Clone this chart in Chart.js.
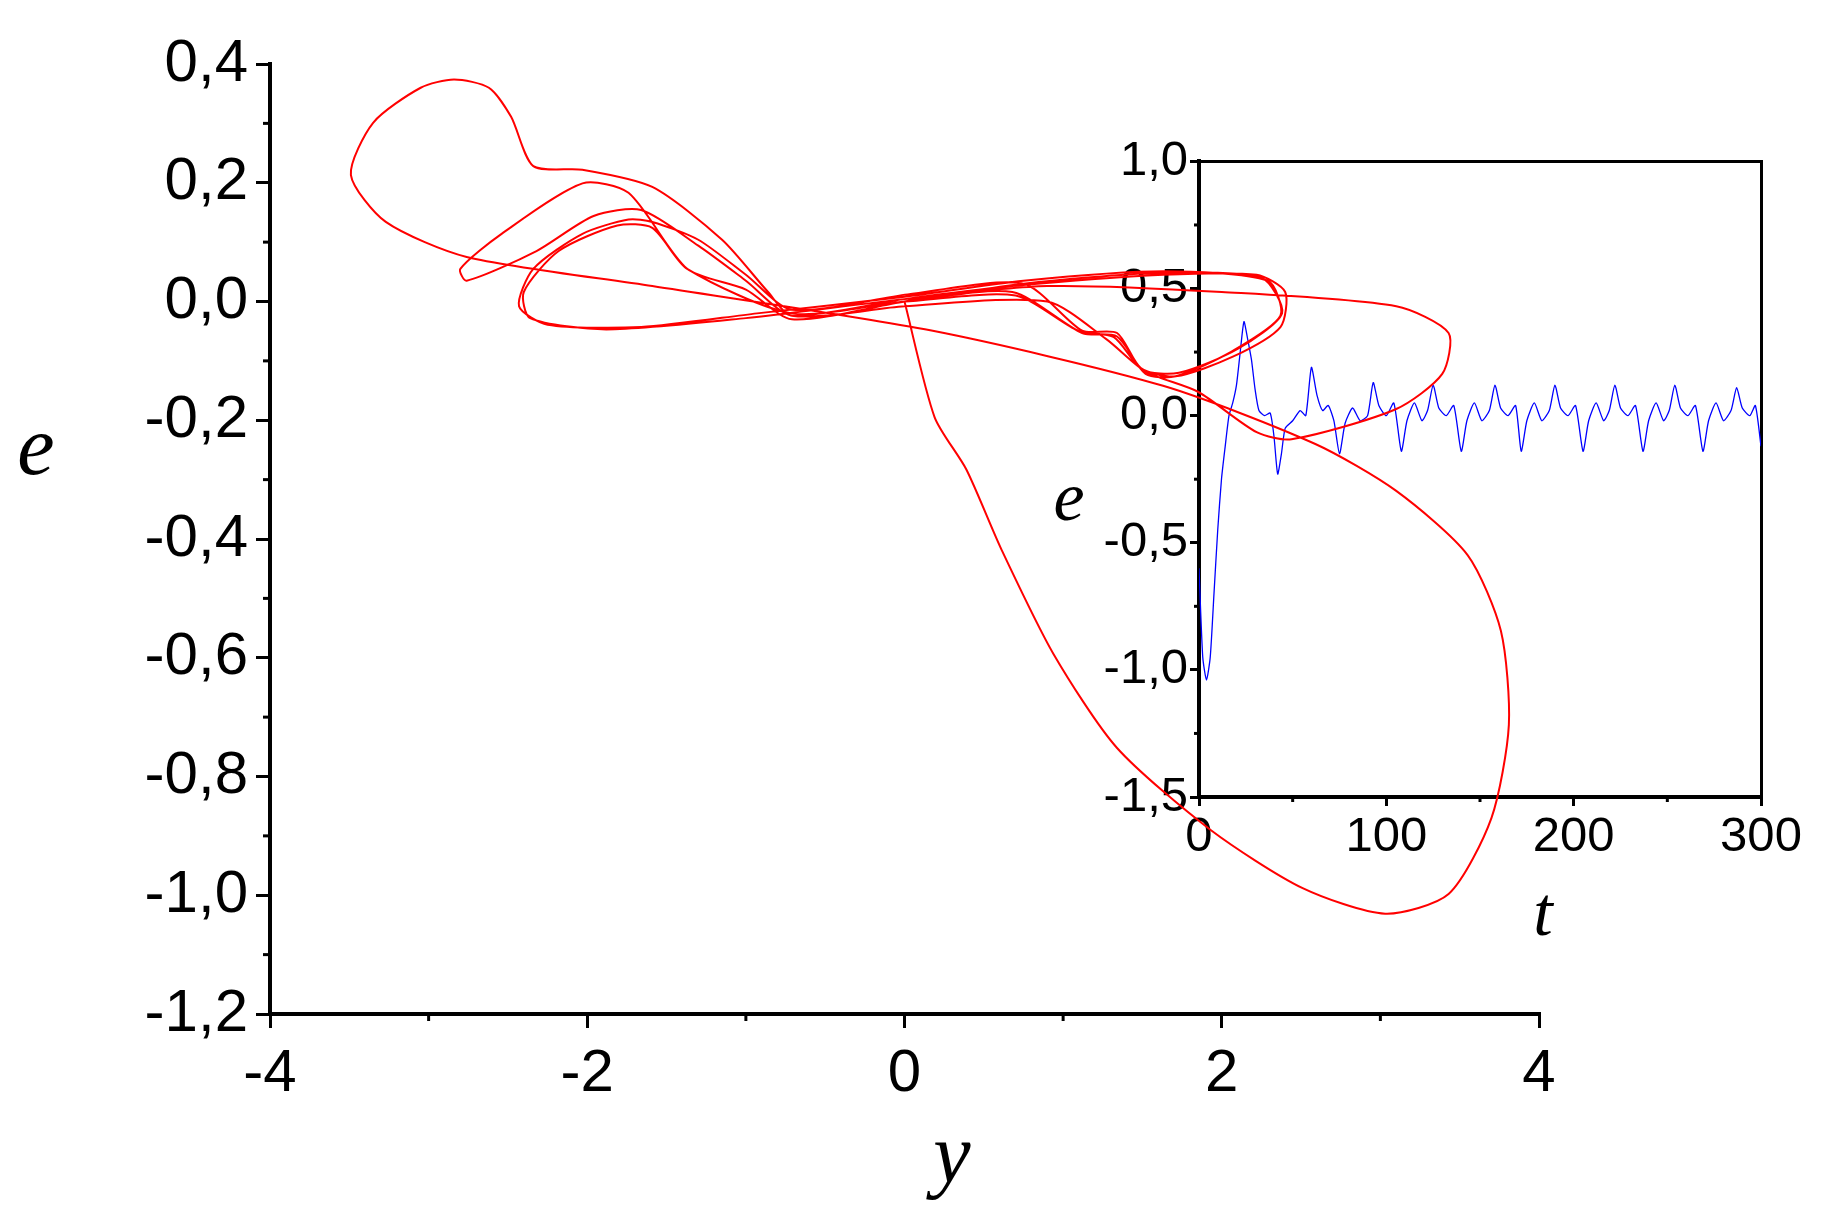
<!DOCTYPE html>
<html>
<head>
<meta charset="utf-8">
<script src="https://cdn.jsdelivr.net/npm/chart.js@4"></script>
<style>
  body { margin: 0; background: #fff; }
  #wrap { position: relative; width: 1823px; height: 1219px; }
  canvas { position: absolute; }
</style>
</head>
<body>
<div id="wrap">
  <canvas id="inset" width="783" height="900" style="left:1040px;top:130px"></canvas>
  <canvas id="main" width="1823" height="1219" style="left:0;top:0"></canvas>
</div>
<script>
// phase portrait: y and e
const phaseY = [0, 0.19, 0.39, 0.61, 0.94, 1.34, 1.93, 2.51, 3.03, 3.43, 3.70, 3.81, 3.76, 3.55, 3.10, 2.59, 1.63, 0.17, -1.59, -2.76, -3.27,
  -3.49, -3.35, -3.05, -2.84, -2.62, -2.48, -2.34, -2.03, -1.59, -1.15, -0.86, -0.71, 0, 0.68, 1.63, 2.22, 2.40, 2.37, 2.07, 1.71, 1.49, 1.34, 1.12, 0.75, 0.02, -0.71,
  -1.00, -1.30, -1.59, -1.74, -2.03, -2.34, -2.43, -2.25, -1.66, -0.93, 0, 0.75, 1.63, 2.29, 2.37, 2.07, 1.71, 1.52, 1.34, 1.12, 0.68, 0, -0.71,
  -1.37, -1.59, -1.81, -2.18, -2.40, -2.36, -1.88, -1.00, 0,
  0.90, 2.00, 3.10, 3.43, 3.39, 3.10, 2.44, 2.22, 1.85, 1.52, 1.27, 0.90, 0, -0.71, -1.00,
  -1.30, -1.66, -1.96, -2.32, -2.76, -2.80, -2.54, -2.03, -1.74, -1.37, -1.00, -0.71, 0, 0.75, 1.60, 2.25, 2.38, 2.10, 1.73, 1.50, 1.32, 1.10, 0.70, 0];
const phaseE = [0, -0.195, -0.283, -0.417, -0.594, -0.752, -0.890, -0.988, -1.031, -0.998, -0.870, -0.713, -0.555, -0.427, -0.319, -0.240, -0.142, -0.049, 0.026, 0.075, 0.134,
  0.213, 0.301, 0.360, 0.374, 0.360, 0.311, 0.228, 0.222, 0.193, 0.104, 0.016, -0.024, 0.004, 0.026, 0.045, 0.045, 0.016, -0.043, -0.093, -0.126, -0.112, -0.053, -0.049, 0.030, 0.012, -0.014,
  0.045, 0.104, 0.134, 0.138, 0.114, 0.055, -0.008, -0.039, -0.043, -0.020, 0.008, 0.035, 0.051, 0.035, -0.024, -0.083, -0.126, -0.122, -0.059, -0.053, 0.016, 0, -0.020,
  0.055, 0.124, 0.128, 0.085, 0.016, -0.028, -0.047, -0.028, 0.004,
  0.026, 0.016, -0.008, -0.053, -0.122, -0.181, -0.232, -0.220, -0.152, -0.118, -0.063, 0, -0.008, -0.024, 0.035,
  0.094, 0.154, 0.144, 0.085, 0.035, 0.055, 0.114, 0.199, 0.183, 0.055, 0.020, -0.030, 0, 0.030, 0.048, 0.040, -0.020, -0.080, -0.120, -0.115, -0.060, -0.050, 0.010, 0];

// inset: e over time t
const timeT = [0, 2, 4, 6, 8, 10, 12, 14, 16, 18, 20, 22, 24, 26, 28, 30, 32, 35, 38, 40, 42, 44, 46, 50, 54, 57,
  60, 63, 66, 69, 72, 75, 78, 82, 86, 90, 93, 96, 100, 104, 108, 111, 115, 119, 122,
  125, 128, 132, 136, 140, 143, 147, 151, 155, 158, 161, 165, 169, 172, 175, 179, 183, 187,
  190, 193, 197, 201, 205, 208, 212, 216, 219, 222, 225, 229, 233, 237, 240, 244, 248, 251,
  254, 257, 261, 265, 269, 272, 276, 280, 284, 287, 290, 294, 297, 300];
const timeE = [-0.6, -0.95, -1.04, -0.95, -0.7, -0.45, -0.25, -0.12, 0.0, 0.05, 0.12, 0.25, 0.37, 0.3, 0.22, 0.1, 0.02, 0.0, 0.01, -0.08, -0.23, -0.15, -0.05, -0.02, 0.02, 0.0,
  0.19, 0.08, 0.02, 0.04, -0.02, -0.15, -0.03, 0.03, -0.02, 0.0, 0.13, 0.04, 0.0, 0.05, -0.14, -0.02, 0.05, -0.02, 0.02,
  0.12, 0.03, 0.0, 0.04, -0.14, -0.02, 0.05, -0.02, 0.02, 0.12, 0.03, 0.0, 0.04, -0.14, -0.02, 0.05, -0.02, 0.02,
  0.12, 0.03, 0.0, 0.04, -0.14, -0.02, 0.05, -0.02, 0.02, 0.12, 0.03, 0.0, 0.04, -0.14, -0.02, 0.05, -0.02, 0.02,
  0.12, 0.03, 0.0, 0.04, -0.14, -0.02, 0.05, -0.02, 0.02, 0.11, 0.03, 0.0, 0.04, -0.12];

const comma = v => (Math.round(v * 10) / 10).toFixed(1).replace('.', ',');

// minor tick marks + axis titles
const extras = {
  id: 'extras',
  afterDraw(chart, args, o) {
    const c = chart.ctx, x = chart.scales.x, y = chart.scales.y;
    c.save();
    c.strokeStyle = '#000';
    c.lineWidth = o.lw;
    o.minorX.forEach(v => {
      const p = x.getPixelForValue(v);
      c.beginPath(); c.moveTo(p, x.top); c.lineTo(p, x.top + o.minorLen); c.stroke();
    });
    o.minorY.forEach(v => {
      const p = y.getPixelForValue(v);
      c.beginPath(); c.moveTo(y.right, p); c.lineTo(y.right - o.minorLen, p); c.stroke();
    });
    c.fillStyle = '#000';
    c.textAlign = 'center';
    c.textBaseline = 'middle';
    c.font = 'italic ' + o.titleSize + 'px "Liberation Serif", serif';
    c.fillText(o.yTitle, o.yTitlePos[0], o.yTitlePos[1]);
    c.fillText(o.xTitle, o.xTitlePos[0], o.xTitlePos[1]);
    c.restore();
  }
};

function range(a, b, s) { const r = []; for (let v = a; v <= b + 1e-9; v += s) r.push(Math.round(v * 1000) / 1000); return r; }

new Chart(document.getElementById('inset'), {
  type: 'scatter',
  data: { datasets: [{ data: timeT.map((t, i) => ({ x: t, y: timeE[i] })), showLine: true, borderColor: '#0000ff', borderWidth: 1.3, pointRadius: 0, tension: 0.2 }] },
  options: {
    responsive: false, animation: false, devicePixelRatio: 1,
    layout: { padding: { left: 39, right: 54, top: 22, bottom: 153 } },
    plugins: {
      legend: { display: false }, tooltip: { enabled: false },
      extras: { lw: 3, minorLen: 5, minorX: [50, 150, 250], minorY: [0.75, 0.25, -0.25, -0.75, -1.25],
        titleSize: 70, yTitle: 'e', yTitlePos: [29, 372], xTitle: 't', xTitlePos: [503, 787] }
    },
    scales: {
      x: { type: 'linear', min: 0, max: 300,
        ticks: { stepSize: 100, color: '#000', font: { size: 49, family: '"Liberation Sans", Arial' }, padding: 2, maxRotation: 0 },
        grid: { drawOnChartArea: false, color: '#000', lineWidth: 3, tickLength: 9 },
        border: { color: '#000', width: 4 }, afterFit: s => { s.height = 80; } },
      y: { min: -1.5, max: 1.0,
        ticks: { stepSize: 0.5, color: '#000', font: { size: 49, family: '"Liberation Sans", Arial' }, padding: 2, callback: comma },
        grid: { drawOnChartArea: false, color: '#000', lineWidth: 3, tickLength: 9 },
        border: { color: '#000', width: 4 }, afterFit: s => { s.width = 120; } },
      x2: { type: 'linear', position: 'top', min: 0, max: 300, ticks: { display: false }, grid: { display: false }, border: { color: '#000', width: 3 } },
      y2: { position: 'right', min: -1.5, max: 1.0, ticks: { display: false }, grid: { display: false }, border: { color: '#000', width: 3 } }
    }
  },
  plugins: [extras]
});

new Chart(document.getElementById('main'), {
  type: 'scatter',
  data: { datasets: [{ data: phaseY.map((v, i) => ({ x: v, y: phaseE[i] })), showLine: true, borderColor: '#ff0000', borderWidth: 2, pointRadius: 0, tension: 0.25 }] },
  options: {
    responsive: false, animation: false, devicePixelRatio: 1,
    layout: { padding: { left: 120, right: 284, top: 64, bottom: 105 } },
    plugins: {
      legend: { display: false }, tooltip: { enabled: false },
      extras: { lw: 3, minorLen: 7, minorX: [-3, -1, 1, 3], minorY: range(-1.1, 0.3, 0.2),
        titleSize: 84, yTitle: 'e', yTitlePos: [36, 452], xTitle: 'y', xTitlePos: [952, 1160] }
    },
    scales: {
      x: { type: 'linear', min: -4, max: 4,
        ticks: { stepSize: 2, color: '#000', font: { size: 60, family: '"Liberation Sans", Arial' }, padding: 10, maxRotation: 0 },
        grid: { drawOnChartArea: false, color: '#000', lineWidth: 3, tickLength: 14 },
        border: { color: '#000', width: 4 }, afterFit: s => { s.height = 100; } },
      y: { min: -1.2, max: 0.4,
        ticks: { stepSize: 0.2, color: '#000', font: { size: 60, family: '"Liberation Sans", Arial' }, padding: 8, callback: comma },
        grid: { drawOnChartArea: false, color: '#000', lineWidth: 3, tickLength: 14 },
        border: { color: '#000', width: 4 }, afterFit: s => { s.width = 150; } }
    }
  },
  plugins: [extras]
});
</script>
</body>
</html>
